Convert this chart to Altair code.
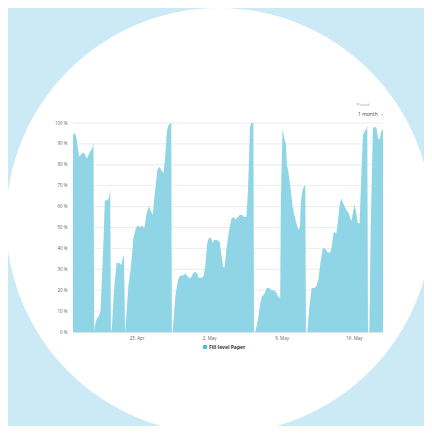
import altair as alt
import pandas as pd

# days since 18 Apr 2019 00:00
day_offset = [
    0.84, 1.01, 1.17, 1.43, 1.65, 1.82, 1.98, 2.20, 2.46, 2.72, 2.82, 2.89,
    2.95, 3.11, 3.37, 3.50, 3.76, 3.92, 4.15, 4.31, 4.44, 4.51,
    4.60, 4.80, 5.06, 5.32, 5.51, 5.64, 5.77, 5.87,
    5.96, 6.19, 6.42, 6.68, 6.94, 7.16, 7.32, 7.49, 7.65, 7.75, 7.97, 8.17,
    8.36, 8.55, 8.68, 8.88, 9.01, 9.20, 9.43, 9.59, 9.75, 9.92, 10.08, 10.24,
    10.34, 10.40,
    10.47, 10.73, 10.99, 11.21, 11.47, 11.70, 11.86, 12.02, 12.25, 12.44,
    12.67, 12.83, 12.99, 13.32, 13.48, 13.64, 13.80, 13.97, 14.19, 14.32,
    14.52, 14.78, 15.03, 15.16, 15.36, 15.49, 15.68, 15.91, 16.14, 16.33,
    16.56, 16.78, 16.98, 17.21, 17.37, 17.60, 17.76, 17.95, 18.08, 18.28,
    18.34,
    18.44, 18.60, 18.76, 18.92, 19.09, 19.31, 19.57, 19.80, 20.02, 20.28,
    20.48, 20.67, 20.87, 20.93, 21.09, 21.26, 21.42, 21.52, 21.65, 21.84,
    22.07, 22.29, 22.49, 22.62, 22.78, 22.88, 23.04, 23.20, 23.30, 23.36,
    23.49, 23.69, 23.91, 24.17, 24.37, 24.56, 24.76, 24.98, 25.21, 25.47,
    25.73, 25.89, 26.05, 26.28, 26.44, 26.60, 26.76, 26.93, 27.09, 27.31,
    27.48, 27.61, 27.74, 27.90, 28.06, 28.22, 28.38, 28.55, 28.71, 28.87,
    29.03, 29.20, 29.29, 29.36,
    29.49, 29.62, 29.84, 30.17, 30.33, 30.49, 30.65, 30.81,
]
fill_level = [
    94, 95.5, 93, 84, 85, 86, 85, 83, 86, 88, 91, 0,
    3, 6, 8, 10, 40, 63, 63, 64, 68, 0,
    2, 20, 33, 33, 32, 35, 37, 0,
    5, 22, 30, 45, 50, 51, 50, 51, 50, 50, 57, 60,
    58, 56, 63, 72, 78, 79, 77, 76, 84, 96, 99, 100,
    100, 0,
    0, 17, 25, 27, 27, 28, 27, 26, 26, 28,
    29, 28, 26, 26, 27, 32, 42, 45, 45, 43,
    44, 44, 43, 38, 31, 31, 40, 48, 54, 55,
    54, 55, 56, 56, 55, 55, 68, 98, 100, 100,
    0,
    0, 3, 7, 13, 17, 18, 21, 21, 20, 20,
    19, 17, 16, 60, 97, 93, 90, 80, 77, 70,
    60, 55, 51, 49, 50, 63, 68, 70, 70, 0,
    0, 12, 21, 21, 22, 25, 33, 40, 40, 38,
    38, 42, 48, 47, 52, 60, 64, 62, 60, 58,
    57, 55, 53, 57, 61, 57, 52, 52, 75, 94,
    96, 97, 99, 0,
    0, 50, 98, 98, 93, 92, 96, 97,
]
series_name = "Fill level Paper"
y_ticks = [0, 10, 20, 30, 40, 50, 60, 70, 80, 90, 100]

start = pd.Timestamp("2019-04-18")
df = pd.DataFrame({
    "time": start + pd.to_timedelta(day_offset, unit="D"),
    "fill": fill_level,
})
grid_df = pd.DataFrame({"fill": y_ticks})
one = pd.DataFrame({"a": [0]})

font = "Open Sans"

circle = alt.Chart(one).mark_point(
    shape="circle", size=181476, fill="white", filled=True, opacity=1, strokeWidth=0
).encode(x=alt.value(146), y=alt.value(98))

y_scale = alt.Scale(domain=[0, 100], nice=False)
y_axis = alt.Axis(
    values=y_ticks,
    labelExpr="datum.value + ' %'",
    domain=False,
    ticks=False,
    grid=False,
    labelPadding=6,
    zindex=1,
)

grid = alt.Chart(grid_df).mark_rule(color="#ececec", strokeWidth=1).encode(
    y=alt.Y("fill:Q", title=None, scale=y_scale, axis=y_axis),
    x=alt.value(0),
    x2=alt.value(310),
)

area = alt.Chart(df).mark_area(color="#8fd5e6", interpolate="linear").encode(
    x=alt.X(
        "time:T",
        title=None,
        scale=alt.Scale(nice=False),
        axis=alt.Axis(
            values=[
                alt.DateTime(year=2019, month=4, date=25),
                alt.DateTime(year=2019, month=5, date=2),
                alt.DateTime(year=2019, month=5, date=9),
                alt.DateTime(year=2019, month=5, date=16),
            ],
            format="%-d. %b",
            grid=False,
            ticks=False,
            labelPadding=3,
            domainColor="#dfe4ea",
            zindex=1,
        ),
    ),
    y=alt.Y("fill:Q", title=None, scale=y_scale, axis=y_axis),
)

legend_dot = alt.Chart(one).mark_circle(size=20, color="#4db6dc", opacity=1).encode(
    x=alt.value(132), y=alt.value(224)
)
legend_text = alt.Chart(one).mark_text(
    text=series_name, align="left", baseline="middle", fontSize=5,
    fontWeight="bold", font=font, color="#333333"
).encode(x=alt.value(136), y=alt.value(224))

period_label = alt.Chart(one).mark_text(
    text="Period", align="left", baseline="middle", fontSize=4,
    font=font, color="#999999"
).encode(x=alt.value(284), y=alt.value(-18))
period_value = alt.Chart(one).mark_text(
    text="1 month", align="left", baseline="middle", fontSize=5,
    font=font, color="#444444"
).encode(x=alt.value(285), y=alt.value(-9))
chevron = alt.Chart(one).mark_text(
    text="⌄", align="center", baseline="middle", fontSize=5,
    font="DejaVu Sans", color="#999999"
).encode(x=alt.value(309), y=alt.value(-10))

chart = alt.layer(
    circle, grid, area, legend_dot, legend_text, period_label, period_value, chevron
).resolve_scale(y="shared").properties(
    width=310,
    height=209,
    background="#cbeaf5",
    padding={"left": 65, "top": 115, "right": 41, "bottom": 94},
    autosize=alt.AutoSizeParams(type="none"),
).configure_view(stroke=None).configure_axis(
    labelFont=font, labelFontSize=4.5, labelColor="#666666"
)

chart.save("out.html", embed_options={"renderer": "svg", "actions": False})
